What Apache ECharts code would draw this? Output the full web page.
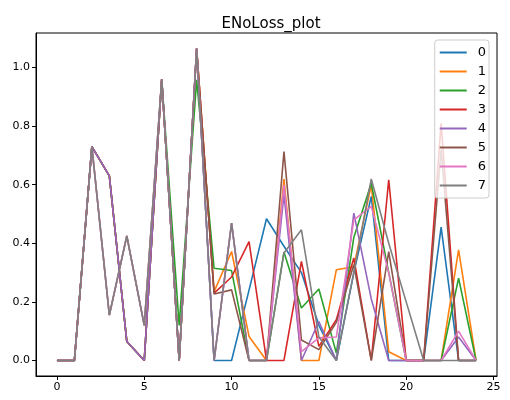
<!DOCTYPE html>
<html>
<head>
<meta charset="utf-8">
<script src="https://cdn.jsdelivr.net/npm/echarts@6/dist/echarts.min.js"></script>
<style>html,body{margin:0;padding:0;background:#fff}#c{width:510px;height:400px}</style>
</head>
<body>
<div id="c"></div>
<script>
const titleText = 'ENoLoss_plot';
const xValues = [0,1,2,3,4,5,6,7,8,9,10,11,12,13,14,15,16,17,18,19,20,21,22,23,24];
const seriesNames = ['0','1','2','3','4','5','6','7'];
const s0 = [0,0,0.73,0.63,0.065,0,0.96,0,1.065,0,0,0.24,0.484,0.39,0.30,0.12,0,0.3,0.56,0,0,0,0.455,0,0];
const s1 = [0,0,0.73,0.63,0.065,0,0.96,0,1.065,0.235,0.372,0.082,0,0.619,0,0,0.31,0.32,0.6,0.03,0,0,0,0.378,0];
const s2 = [0,0,0.73,0.63,0.065,0,0.96,0.12,0.958,0.315,0.307,0,0,0.37,0.179,0.244,0.025,0.42,0.605,0.3,0,0,0,0.281,0];
const s3 = [0,0,0.73,0.63,0.065,0,0.96,0,1.065,0.23,0.285,0.406,0,0,0.338,0.048,0.139,0.35,0,0.617,0,0,0.81,0,0];
const s4 = [0,0,0.73,0.63,0.065,0,0.96,0,1.065,0,0.469,0,0,0.566,0,0.133,0,0.503,0.21,0,0,0,0,0.08,0];
const s5 = [0,0,0.73,0.155,0.425,0.12,0.96,0,1.065,0.227,0.241,0,0,0.713,0.07,0.037,0.13,0.327,0,0.372,0,0,0.72,0,0];
const s6 = [0,0,0.73,0.155,0.425,0.12,0.96,0,1.065,0,0.469,0,0,0.6,0.03,0.077,0.08,0.48,0.526,0.3,0,0,0,0.1,0];
const s7 = [0,0,0.73,0.155,0.425,0.12,0.96,0,1.065,0,0.469,0,0,0.367,0.446,0.08,0,0.3,0.62,0.4,0.2,0,0,0,0];
const xTicks = [0,5,10,15,20,25];
const yTicks = [0,0.2,0.4,0.6,0.8,1.0];

const allSeries = [s0,s1,s2,s3,s4,s5,s6,s7];
const colors = ['#1f77b4','#ff7f0e','#2ca02c','#d62728','#9467bd','#8c564b','#e377c2','#7f7f7f'];
const font = 'DejaVu Sans';
const chart = echarts.init(document.getElementById('c'), null, {renderer:'canvas'});
chart.setOption({
  animation:false,
  color: colors,
  title:{text:titleText,left:266,textAlign:'center',top:12,textStyle:{fontFamily:font,fontSize:15,fontWeight:'normal',color:'#000'}},
  legend:{
    orient:'vertical',right:21,top:40,
    data:seriesNames,
    icon:'rect',itemWidth:27,itemHeight:2,itemGap:6,
    padding:[6,3,6,5],
    backgroundColor:'rgba(255,255,255,0.8)',borderColor:'#cccccc',borderWidth:1,borderRadius:3,
    textStyle:{fontFamily:font,fontSize:13,color:'#000',padding:[0,0,0,6]}
  },
  grid:{left:36,right:13,top:33,bottom:24,show:true,borderColor:'#000',borderWidth:1,containLabel:false},
  xAxis:{type:'value',min:-1.2,max:25.2,
    axisLine:{show:true,onZero:false,lineStyle:{color:'#000',width:1}},
    axisTick:{show:true,customValues:xTicks,length:4,lineStyle:{color:'#000'}},
    axisLabel:{customValues:xTicks,fontFamily:font,fontSize:11,color:'#000',margin:6},
    splitLine:{show:false}},
  yAxis:{type:'value',min:-0.053,max:1.118,
    axisLine:{show:true,onZero:false,lineStyle:{color:'#000',width:1}},
    axisTick:{show:true,customValues:yTicks,length:4,lineStyle:{color:'#000'}},
    axisLabel:{customValues:yTicks,fontFamily:font,fontSize:11,color:'#000',margin:6,formatter:v=>v.toFixed(1)},
    splitLine:{show:false}},
  series: allSeries.map((d,i)=>({
    name:seriesNames[i],type:'line',symbol:'none',
    data:d.map((v,j)=>[xValues[j],v]),
    lineStyle:{width:1.6,color:colors[i]},
    itemStyle:{color:colors[i]}
  }))
});
</script>
</body>
</html>
